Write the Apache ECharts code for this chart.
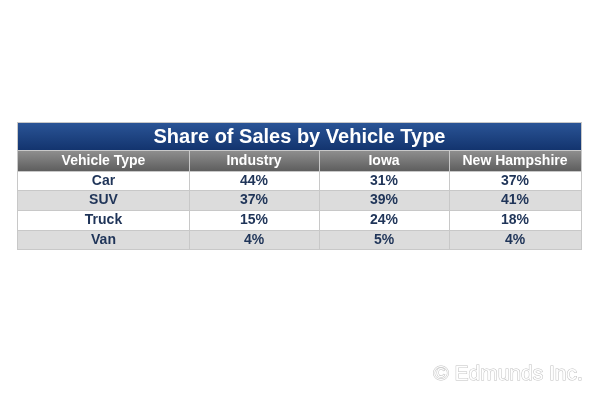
<!DOCTYPE html>
<html><head><meta charset="utf-8">
<script src="https://cdn.jsdelivr.net/npm/echarts@6/dist/echarts.min.js"></script>
<style>html,body{margin:0;background:#fff}#c{width:600px;height:400px}</style>
</head><body><div id="c"></div>
<script>
const title = 'Share of Sales by Vehicle Type';
const headers = ['Vehicle Type', 'Industry', 'Iowa', 'New Hampshire'];
const categories = ['Car', 'SUV', 'Truck', 'Van'];
const industry = ['44%', '37%', '15%', '4%'];
const iowa = ['31%', '39%', '24%', '5%'];
const newHampshire = ['37%', '41%', '18%', '4%'];
const watermark = '© Edmunds Inc.';

const colX = [18, 189, 319, 449, 581];
const rowY = [171, 190, 210, 230, 249];
const font = 'Liberation Sans, Arial, sans-serif';
const cols = [categories, industry, iowa, newHampshire];
const els = [];
els.push({type:'rect', shape:{x:17,y:122,width:565,height:128}, style:{fill:'#c8c8c8'}});
els.push({type:'rect', shape:{x:18,y:123,width:563,height:27}, style:{fill:new echarts.graphic.LinearGradient(0,0,0,1,[{offset:0,color:'#2a5496'},{offset:1,color:'#13346e'}])}});
els.push({type:'text', x:299.5, y:137, style:{text:title, font:'bold 20px '+font, fill:'#fff', align:'center', verticalAlign:'middle'}});
for (let c=0;c<4;c++){
  els.push({type:'rect', shape:{x:colX[c]+(c?1:0),y:151,width:colX[c+1]-colX[c]-(c?1:0),height:20}, style:{fill:new echarts.graphic.LinearGradient(0,0,0,1,[{offset:0,color:'#8e8e8e'},{offset:1,color:'#5e5e5e'}])}});
  els.push({type:'text', x:(colX[c]+colX[c+1])/2, y:161, style:{text:headers[c], font:'bold 14px '+font, fill:'#fff', align:'center', verticalAlign:'middle'}});
}
for (let r=0;r<categories.length;r++){
  for (let c=0;c<4;c++){
    els.push({type:'rect', shape:{x:colX[c]+(c?1:0),y:rowY[r]+1,width:colX[c+1]-colX[c]-(c?1:0),height:rowY[r+1]-rowY[r]-1}, style:{fill:r%2?'#dcdcdc':'#ffffff'}});
    els.push({type:'text', x:(colX[c]+colX[c+1])/2, y:(rowY[r]+rowY[r+1])/2+0.5, style:{text:cols[c][r], font:'bold 14px '+font, fill:'#1f3458', align:'center', verticalAlign:'middle'}});
  }
}
els.push({type:'text', x:508, y:374, style:{text:watermark, font:'21px '+font, fill:'#fff', stroke:'#c0c0c0', lineWidth:1, align:'center', verticalAlign:'middle', shadowColor:'rgba(0,0,0,0.3)', shadowBlur:3, shadowOffsetX:1, shadowOffsetY:1}});
const chart = echarts.init(document.getElementById('c'));
chart.setOption({animation:false, graphic:{elements:els}});
</script></body></html>
